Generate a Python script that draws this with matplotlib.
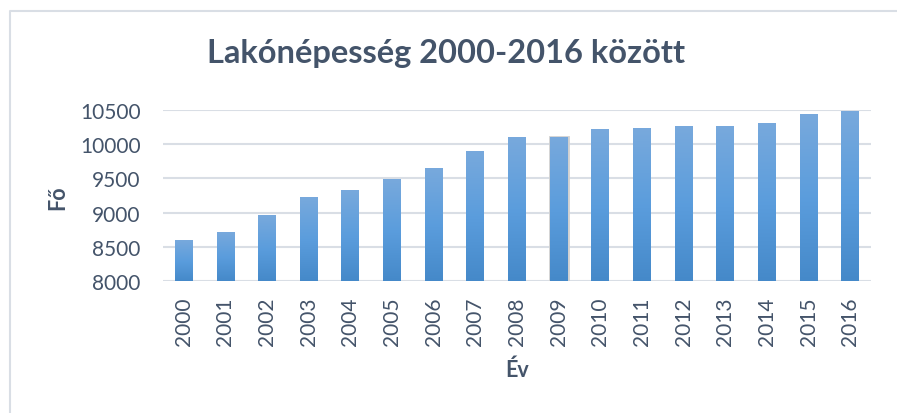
import numpy as np
import matplotlib.pyplot as plt
from matplotlib.colors import LinearSegmentedColormap
from matplotlib.lines import Line2D

# adatok
evek = [str(e) for e in range(2000, 2017)]
fo = [8596, 8713, 8962, 9226, 9328, 9489, 9650, 9899, 10104,
      10108, 10222, 10236, 10266, 10266, 10310, 10441, 10485]
y_ticks = [8000, 8500, 9000, 9500, 10000, 10500]

plt.rcParams['font.family'] = ['Lato', 'DejaVu Sans']
szoveg = '#44546a'

fig = plt.figure(figsize=(8.97, 4.14), dpi=100)
# kulso keret (csak felul es balra latszik)
fig.lines.append(Line2D([10 / 897, 10 / 897, 1], [0, 1 - 12 / 414, 1 - 12 / 414],
                        transform=fig.transFigure, color='#d9dee5', linewidth=1.5))

ax = fig.add_axes([163 / 897, 1 - 282 / 414, 708 / 897, 171 / 414])
x = np.arange(len(evek))
bars = ax.bar(x, fo, width=0.43, color='#5b9bd5', zorder=2)

# szinatmenet az oszlopokon
cmap = LinearSegmentedColormap.from_list('grad', ['#4589c9', '#5b9ddd', '#78a9dc'])
grad = np.linspace(0, 1, 256).reshape(-1, 1)
for b in bars:
    x0, w, h = b.get_x(), b.get_width(), b.get_height()
    im = ax.imshow(grad, cmap=cmap, aspect='auto', origin='lower',
                   extent=(x0, x0 + w, 8000, h), zorder=2)
    im.set_clip_path(b)
    b.set_facecolor('none')
bars[9].set_edgecolor('#d0d0d0')
bars[9].set_linewidth(2)

ax.set_xlim(-0.5, len(evek) - 0.5)
ax.set_ylim(8000, 10500)
ax.set_yticks(y_ticks)
ax.set_yticklabels([str(t) for t in y_ticks], fontsize=15, color=szoveg)
ax.set_xticks(x)
ax.set_xticklabels(evek, rotation=90, fontsize=15, color=szoveg)
ax.tick_params(axis='y', length=0, pad=16)
ax.tick_params(axis='x', length=0, pad=11)
ax.grid(axis='y', color='#d9dee5', linewidth=1.5, zorder=0)
for s in ax.spines.values():
    s.set_visible(False)

fig.text(517 / 897, 1 - 370 / 414, 'Év', ha='center', va='center',
         fontsize=15.5, fontweight='bold', color=szoveg)
fig.text(58 / 897, 1 - 198 / 414, 'Fő', ha='center', va='center', rotation=90,
         fontsize=15.5, fontweight='bold', color=szoveg)
fig.text(446 / 897, 1 - 54 / 414, 'Lakónépesség 2000-2016 között', ha='center', va='center',
         fontsize=23.5, fontweight='bold', color=szoveg)

plt.savefig('out.png', dpi=100)
